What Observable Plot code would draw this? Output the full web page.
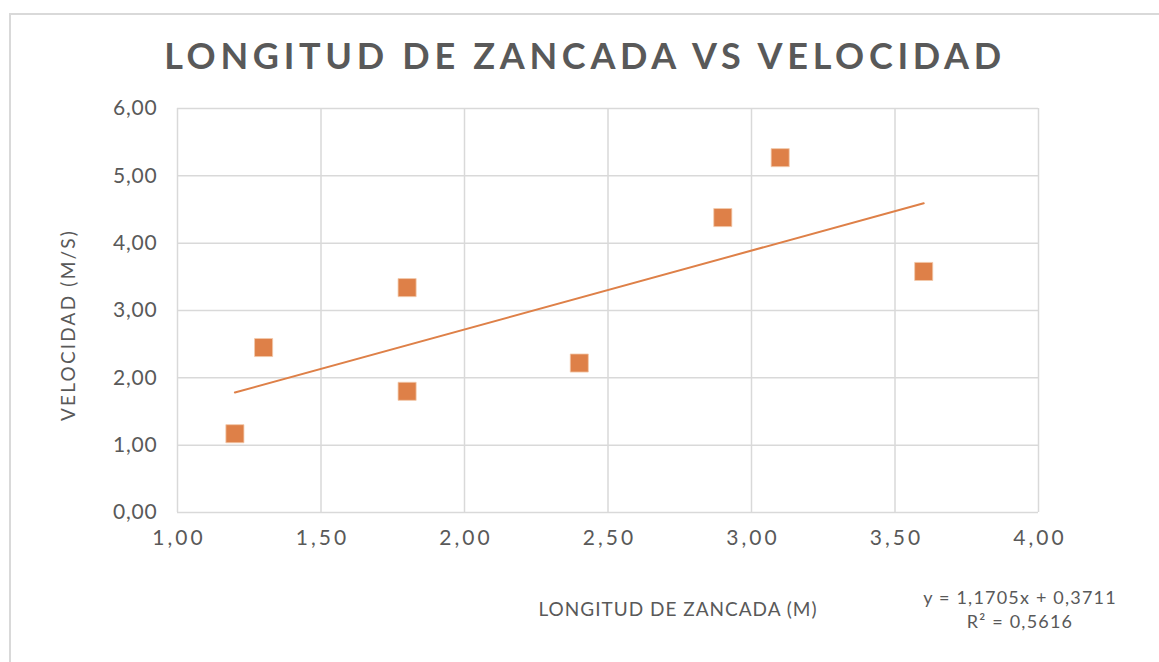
<!DOCTYPE html>
<html>
<head>
<meta charset="utf-8">
<script src="https://cdn.jsdelivr.net/npm/d3@7"></script>
<script src="https://cdn.jsdelivr.net/npm/@observablehq/plot@0.6"></script>
<style>
  html, body { margin: 0; padding: 0; background: #fff; }
  #wrap { position: relative; width: 1159px; height: 662px; overflow: hidden; font-family: Lato, "Open Sans", sans-serif; color: #595959; }
  #frame { position: absolute; left: 9px; top: 13px; width: 1200px; height: 700px; border-top: 2px solid #d9d9d9; border-left: 2px solid #d9d9d9; box-sizing: border-box; }
  #chart { position: absolute; left: 0; top: 0; }
  .t { position: absolute; white-space: nowrap; }
  #title { left: 0; width: 1170px; text-align: center; top: 33px; font-size: 36px; font-weight: 700; letter-spacing: 4.7px; }
  #ytitle { left: 67px; top: 325px; transform: translate(-50%, -50%) rotate(-90deg); font-size: 19px; letter-spacing: 2.2px; }
  #xtitle { left: 678px; top: 608px; transform: translate(-50%, -50%); font-size: 19px; letter-spacing: 1px; }
  #eq { left: 1020px; top: 609px; transform: translate(-50%, -50%); font-size: 18px; letter-spacing: 1.2px; text-align: center; line-height: 24px; }
</style>
</head>
<body>
<div id="wrap">
  <div id="frame"></div>
  <div id="chart"></div>
  <div class="t" id="title"></div>
  <div class="t" id="ytitle"></div>
  <div class="t" id="xtitle"></div>
  <div class="t" id="eq"></div>
</div>
<script>
const titleText = "LONGITUD DE ZANCADA VS VELOCIDAD";
const xTitle = "LONGITUD DE ZANCADA (M)";
const yTitle = "VELOCIDAD (M/S)";
const equationLines = ["y = 1,1705x + 0,3711", "R² = 0,5616"];

const zancada = [1.2, 1.3, 1.8, 1.8, 2.4, 2.9, 3.1, 3.6];
const velocidad = [1.17, 2.45, 3.34, 1.80, 2.22, 4.38, 5.27, 3.58];

const xTicks = [1.0, 1.5, 2.0, 2.5, 3.0, 3.5, 4.0];
const yTicks = [0, 1, 2, 3, 4, 5, 6];

const orange = "#DE8048";
const grid = "#d9d9d9";
const fmt = d => d.toFixed(2).replace(".", ",");

const data = zancada.map((x, i) => ({x, y: velocidad[i]}));

const plot = Plot.plot({
  width: 1159,
  height: 662,
  marginLeft: 177,
  marginRight: 121,
  marginTop: 108,
  marginBottom: 150,
  style: {fontFamily: "Lato, 'Open Sans', sans-serif", fontSize: "21px", color: "#595959", background: "transparent"},
  x: {domain: [1, 4], ticks: xTicks, tickFormat: fmt, tickSize: 0, tickPadding: 18, label: null},
  y: {domain: [0, 6], ticks: yTicks, tickFormat: fmt, tickSize: 0, tickPadding: 20, label: null},
  marks: [
    Plot.gridX(xTicks, {stroke: grid, strokeOpacity: 1, strokeWidth: 1.5}),
    Plot.gridY(yTicks, {stroke: grid, strokeOpacity: 1, strokeWidth: 1.5}),
    Plot.axisX({ticks: xTicks, tickFormat: fmt, tickSize: 0, tickPadding: 18, label: null, fontSize: 21}),
    Plot.axisY({ticks: yTicks, tickFormat: fmt, tickSize: 0, tickPadding: 20, label: null, fontSize: 21}),
    Plot.linearRegressionY(data, {x: "x", y: "y", stroke: orange, strokeWidth: 2, ci: 0}),
    Plot.dot(data, {x: "x", y: "y", symbol: "square", r: 10.2, fill: orange, stroke: "#f3c9ab", strokeWidth: 0.8})
  ]
});
document.getElementById("chart").appendChild(plot);
plot.querySelectorAll('g[aria-label="x-axis tick label"] text').forEach(t => { t.setAttribute("letter-spacing", "3"); t.setAttribute("dx", "1.5"); });
plot.querySelectorAll('g[aria-label="y-axis tick label"] text').forEach(t => t.setAttribute("letter-spacing", "0.8"));

document.getElementById("title").textContent = titleText;
document.getElementById("xtitle").textContent = xTitle;
document.getElementById("ytitle").textContent = yTitle;
document.getElementById("eq").innerHTML = equationLines.join("<br>");
</script>
</body>
</html>
